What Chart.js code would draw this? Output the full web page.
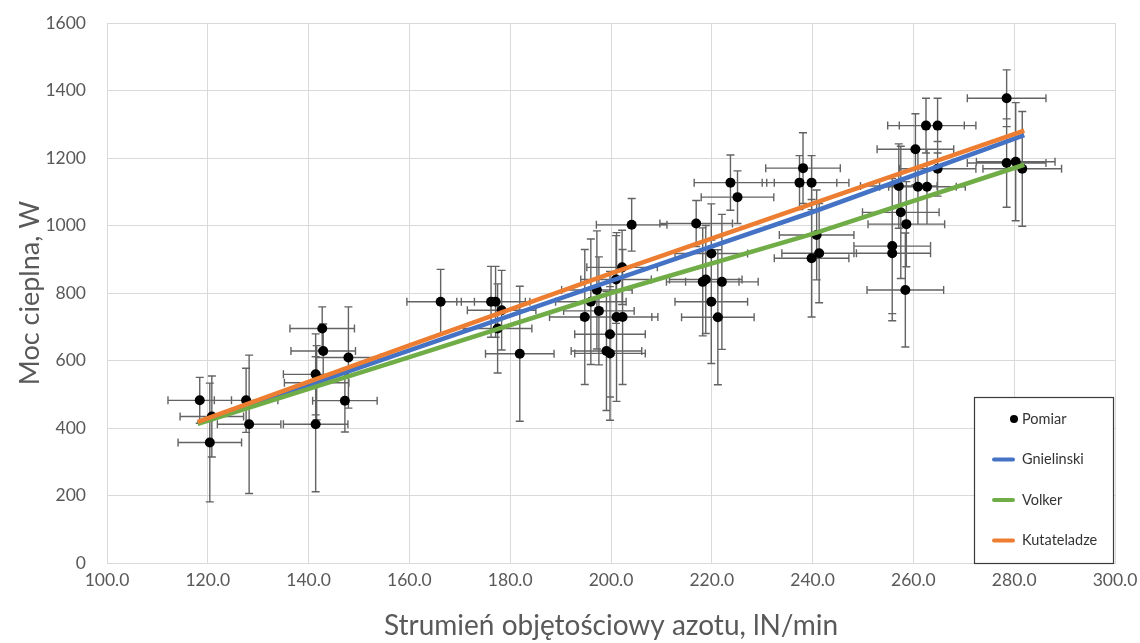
<!DOCTYPE html>
<html>
<head>
<meta charset="utf-8">
<script src="https://cdn.jsdelivr.net/npm/chart.js@4.4.1/dist/chart.umd.min.js"></script>
<style>
  html, body { margin: 0; padding: 0; background: #ffffff; }
  #wrap { width: 1140px; height: 643px; position: relative; }
</style>
</head>
<body>
<div id="wrap"><canvas id="c" width="1140" height="643"></canvas></div>
<script>
// ---- Tick labels ----
const xTickValues = [100, 120, 140, 160, 180, 200, 220, 240, 260, 280, 300];
const xTickLabels = ['100.0', '120.0', '140.0', '160.0', '180.0', '200.0', '220.0', '240.0', '260.0', '280.0', '300.0'];
const yTickValues = [0, 200, 400, 600, 800, 1000, 1200, 1400, 1600];
const yTickLabels = ['0', '200', '400', '600', '800', '1000', '1200', '1400', '1600'];

// ---- Measurement series (Pomiar) ----
const measX = [118.4, 120.8, 120.4, 127.6, 128.2, 142.7, 142.9, 141.4, 141.6, 147.9, 147.2, 141.4,
  166.2, 176.2, 177.1, 178.3, 177.5, 181.9,
  204.1, 202.2, 201.0, 197.2, 196.0, 197.6, 194.8, 201.1, 202.3, 199.8, 199.1, 199.8,
  223.7, 225.1, 216.9, 219.9, 218.2, 218.8, 222.0, 219.9, 221.2,
  238.1, 237.4, 239.8, 240.8, 241.3, 239.8,
  278.5, 262.5, 264.8, 260.4, 264.8, 257.1, 260.9, 262.7, 257.5, 258.6, 255.8, 255.8, 258.4,
  278.5, 280.3, 281.6];
const measY = [482, 434, 357, 482, 411, 695, 628, 559, 534, 609, 481, 411,
  774, 774, 774, 749, 695, 620,
  1002, 876, 840, 809, 774, 747, 729, 729, 729, 678, 628, 621,
  1127, 1084, 1006, 917, 833, 840, 833, 774, 728,
  1170, 1127, 1127, 972, 918, 903,
  1377, 1296, 1296, 1226, 1168, 1117, 1115, 1115, 1039, 1004, 939, 918, 809,
  1185, 1189, 1168];
const measXErr = [6.3, 6.3, 6.3, 6.3, 6.3, 6.4, 6.4, 6.4, 6.4, 6.4, 6.4, 6.4,
  6.7, 6.8, 6.8, 6.8, 6.8, 6.8,
  7.0, 7.0, 7.0, 7.0, 7.0, 7.0, 7.0, 7.0, 7.0, 7.0, 7.0, 7.0,
  7.2, 7.2, 7.2, 7.2, 7.2, 7.2, 7.2, 7.2, 7.2,
  7.4, 7.4, 7.4, 7.4, 7.4, 7.4,
  7.8, 7.6, 7.6, 7.6, 7.6, 7.6, 7.6, 7.6, 7.6, 7.6, 7.6, 7.6, 7.6,
  7.8, 7.8, 7.8];
const measYErr = [68, 120, 176, 95, 205, 64, 80, 120, 110, 150, 93, 200,
  96, 105, 105, 118, 132, 200,
  78, 110, 130, 175, 186, 160, 200, 250, 200, 186, 176, 198,
  82, 78, 68, 147, 160, 160, 200, 183, 200,
  105, 80, 80, 133, 147, 174,
  84, 81, 81, 105, 81, 125, 111, 111, 196, 126, 200, 200, 169,
  131, 175, 170];

// ---- Model lines ----
const gnielinskiX = [118, 160, 200, 240, 282];
const gnielinskiY = [414, 630, 836, 1040, 1268];
const volkerX = [118, 160, 200, 240, 282];
const volkerY = [412, 610, 800, 975, 1180];
const kutateladzeX = [118, 160, 200, 240, 282];
const kutateladzeY = [418, 645, 858, 1065, 1281];

const toPts = (xs, ys) => xs.map((v, i) => ({ x: v, y: ys[i] }));

Chart.defaults.font.family = 'Lato, "Noto Sans", sans-serif';

const errorBarPlugin = {
  id: 'errorBars',
  beforeDatasetDraw(chart, args) {
    if (args.index !== 0) return;
    const { ctx } = chart;
    const xs = chart.scales.x, ys = chart.scales.y;
    const cap = 4;
    ctx.save();
    ctx.strokeStyle = '#636363';
    ctx.lineWidth = 1.4;
    ctx.beginPath();
    for (let i = 0; i < measX.length; i++) {
      const px = xs.getPixelForValue(measX[i]);
      const py = ys.getPixelForValue(measY[i]);
      const xl = xs.getPixelForValue(measX[i] - measXErr[i]);
      const xr = xs.getPixelForValue(measX[i] + measXErr[i]);
      const yt = ys.getPixelForValue(measY[i] + measYErr[i]);
      const yb = ys.getPixelForValue(measY[i] - measYErr[i]);
      ctx.moveTo(xl, py); ctx.lineTo(xr, py);
      ctx.moveTo(xl, py - cap); ctx.lineTo(xl, py + cap);
      ctx.moveTo(xr, py - cap); ctx.lineTo(xr, py + cap);
      ctx.moveTo(px, yt); ctx.lineTo(px, yb);
      ctx.moveTo(px - cap, yt); ctx.lineTo(px + cap, yt);
      ctx.moveTo(px - cap, yb); ctx.lineTo(px + cap, yb);
    }
    ctx.stroke();
    ctx.restore();
  }
};

const boxLegendPlugin = {
  id: 'boxLegend',
  afterDraw(chart) {
    const { ctx, chartArea } = chart;
    const left = chartArea.right - 141;
    const top = chartArea.top + 374;
    const right = chartArea.right - 1;
    const bottom = chartArea.bottom;
    ctx.save();
    ctx.fillStyle = '#ffffff';
    ctx.fillRect(left, top, right - left, bottom - top);
    ctx.strokeStyle = '#3a3a3a';
    ctx.lineWidth = 1.2;
    ctx.strokeRect(left + 0.5, top + 0.5, right - left - 1, bottom - top);
    ctx.font = '14.5px Lato, "Noto Sans", sans-serif';
    ctx.textBaseline = 'middle';
    ctx.textAlign = 'left';
    const ds = chart.data.datasets;
    const rowGap = 40.5;
    const textX = left + 48;
    ds.forEach((d, i) => {
      const cy = top + 22 + i * rowGap;
      if (d.showLine) {
        ctx.strokeStyle = d.borderColor;
        ctx.lineWidth = 4;
        ctx.lineCap = 'round';
        ctx.beginPath();
        ctx.moveTo(left + 20, cy);
        ctx.lineTo(left + 39, cy);
        ctx.stroke();
      } else {
        ctx.fillStyle = '#000000';
        ctx.beginPath();
        ctx.arc(left + 40, cy, 4, 0, Math.PI * 2);
        ctx.fill();
      }
      ctx.fillStyle = '#333333';
      ctx.fillText(d.label, textX, cy);
    });
    ctx.restore();
  }
};

new Chart(document.getElementById('c'), {
  type: 'scatter',
  data: {
    datasets: [
      {
        label: 'Pomiar',
        data: toPts(measX, measY),
        pointRadius: 5,
        pointHoverRadius: 5,
        pointBackgroundColor: '#000000',
        pointBorderColor: '#000000',
        pointBorderWidth: 0,
        showLine: false,
        order: 4
      },
      {
        label: 'Gnielinski',
        data: toPts(gnielinskiX, gnielinskiY),
        showLine: true,
        borderColor: '#4472C4',
        backgroundColor: '#4472C4',
        borderWidth: 4.5,
        pointRadius: 0,
        order: 3
      },
      {
        label: 'Volker',
        data: toPts(volkerX, volkerY),
        showLine: true,
        borderColor: '#70AD47',
        backgroundColor: '#70AD47',
        borderWidth: 4.5,
        pointRadius: 0,
        order: 2
      },
      {
        label: 'Kutateladze',
        data: toPts(kutateladzeX, kutateladzeY),
        showLine: true,
        borderColor: '#ED7D31',
        backgroundColor: '#ED7D31',
        borderWidth: 4.5,
        pointRadius: 0,
        order: 1
      }
    ]
  },
  options: {
    responsive: false,
    animation: false,
    devicePixelRatio: 1,
    layout: { padding: { top: 23, right: 25, left: 0, bottom: 0 } },
    plugins: {
      legend: { display: false },
      tooltip: { enabled: false }
    },
    scales: {
      x: {
        type: 'linear',
        min: 100,
        max: 300,
        afterBuildTicks: (s) => { s.ticks = xTickValues.map(v => ({ value: v })); },
        afterFit: (s) => { s.height = 80; s.paddingLeft = 0; s.paddingRight = 0; },
        ticks: {
          padding: 7,
          color: '#595959',
          font: { size: 17.5 },
          maxRotation: 0,
          autoSkip: false,
          callback: (v, i) => xTickLabels[i]
        },
        grid: { color: '#d9d9d9', lineWidth: 1, drawTicks: false },
        border: { color: '#d9d9d9' },
        title: {
          display: true,
          text: 'Strumień objętościowy azotu, lN/min',
          color: '#595959',
          font: { size: 28 },
          padding: { top: 0, bottom: 0 }
        }
      },
      y: {
        type: 'linear',
        min: 0,
        max: 1600,
        afterBuildTicks: (s) => { s.ticks = yTickValues.map(v => ({ value: v })); },
        afterFit: (s) => { s.width = 107; s.paddingTop = 0; s.paddingBottom = 0; },
        ticks: {
          padding: 21,
          color: '#595959',
          font: { size: 17.5 },
          callback: (v, i) => yTickLabels[i]
        },
        grid: { color: '#d9d9d9', lineWidth: 1, drawTicks: false },
        border: { color: '#d9d9d9' },
        title: {
          display: true,
          text: 'Moc cieplna, W',
          color: '#595959',
          font: { size: 27 },
          padding: { top: 14, bottom: 0 }
        }
      }
    }
  },
  plugins: [errorBarPlugin, boxLegendPlugin]
});
</script>
</body>
</html>
